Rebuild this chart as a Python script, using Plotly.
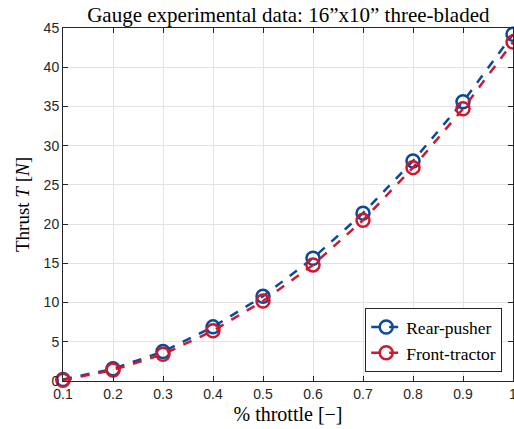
import plotly.graph_objects as go

throttle = [0.1, 0.2, 0.3, 0.4, 0.5, 0.6, 0.7, 0.8, 0.9, 1.0]
rear_pusher = [0.2, 1.55, 3.75, 6.9, 10.8, 15.65, 21.4, 28.05, 35.6, 44.2]
front_tractor = [0.1, 1.4, 3.4, 6.4, 10.2, 14.8, 20.5, 27.2, 34.7, 43.2]
x_ticks = [0.1, 0.2, 0.3, 0.4, 0.5, 0.6, 0.7, 0.8, 0.9, 1.0]
x_tick_labels = ["0.1", "0.2", "0.3", "0.4", "0.5", "0.6", "0.7", "0.8", "0.9", "1"]
y_ticks = [0, 5, 10, 15, 20, 25, 30, 35, 40, 45]

BLUE = "#0B4A9B"
RED = "#D0172B"
SERIF = "Liberation Serif, DejaVu Serif, serif"
SANS = "Liberation Sans, Arial, sans-serif"

fig = go.Figure()
fig.add_trace(go.Scatter(
    x=throttle, y=rear_pusher, name="Rear-pusher", mode="lines+markers",
    line=dict(color=BLUE, width=2.5, dash="dash"),
    marker=dict(symbol="circle-open", size=13, color=BLUE, line=dict(width=2.5, color=BLUE)),
    cliponaxis=False,
))
fig.add_trace(go.Scatter(
    x=throttle, y=front_tractor, name="Front-tractor", mode="lines+markers",
    line=dict(color=RED, width=2.5, dash="dash"),
    marker=dict(symbol="circle-open", size=13, color=RED, line=dict(width=2.5, color=RED)),
    cliponaxis=False,
))

axis_common = dict(
    showline=True, linecolor="#262626", linewidth=1, mirror="ticks",
    ticks="inside", ticklen=5, tickcolor="#262626",
    showgrid=True, gridcolor="#E3E3E3", gridwidth=1,
    zeroline=False, automargin=False, ticklabeloverflow="allow",
    tickfont=dict(family=SANS, size=14, color="#262626"),
)

fig.update_layout(
    width=514, height=429,
    margin=dict(l=63, r=1, t=28, b=48, autoexpand=False),
    paper_bgcolor="white", plot_bgcolor="white",
    title=dict(text="Gauge experimental data: 16\u201dx10\u201d three-bladed",
               font=dict(family=SERIF, size=21, color="black"),
               x=0.561, xanchor="center", y=0.984, yanchor="top"),
    xaxis=dict(range=[0.1, 1.0], tickvals=x_ticks, ticktext=x_tick_labels,
               title=dict(text="% throttle [\u2212]", font=dict(family=SERIF, size=20, color="black"), standoff=6),
               **axis_common),
    yaxis=dict(range=[0, 45], tickvals=y_ticks,
               title=dict(text="Thrust <i>T</i> [<i>N</i>]", font=dict(family=SERIF, size=19, color="black"), standoff=8),
               **axis_common),
    legend=dict(x=0.976, y=0.025, xanchor="right", yanchor="bottom",
                bgcolor="white", bordercolor="#262626", borderwidth=1,
                font=dict(family=SERIF, size=17.5, color="black"),
                itemwidth=30, tracegroupgap=0),
    showlegend=True,
)

fig.write_html("out.html", config={"displayModeBar": False},
               post_script="document.body.style.margin='0';document.body.style.overflow='hidden';")
